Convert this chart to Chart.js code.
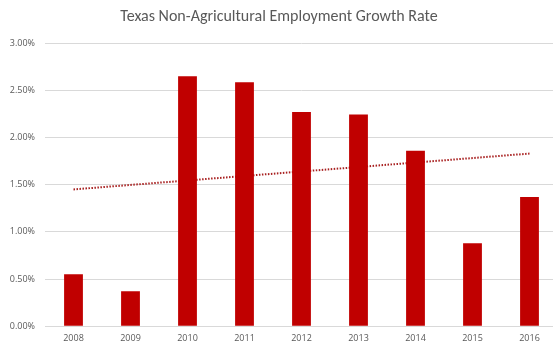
<!DOCTYPE html>
<html>
<head>
<meta charset="utf-8">
<script src="https://cdn.jsdelivr.net/npm/chart.js@4.4.1/dist/chart.umd.min.js"></script>
<style>
  html, body { margin: 0; padding: 0; background: #fff; overflow: hidden; }
  #wrap { width: 558px; height: 346px; }
</style>
</head>
<body>
<div id="wrap"><canvas id="growth-chart"></canvas></div>
<script>
// Data
const years = ["2008", "2009", "2010", "2011", "2012", "2013", "2014", "2015", "2016"];
const growthRate = [0.55, 0.37, 2.65, 2.585, 2.27, 2.245, 1.86, 0.88, 1.37];
// dotted linear trend: value at first and last year
const trendEnds = [1.45, 1.83];
const yTicks = [0, 0.5, 1, 1.5, 2, 2.5, 3];

const trendData = years.map((y, i) => i === 0 ? trendEnds[0] : (i === years.length - 1 ? trendEnds[1] : null));

new Chart(document.getElementById("growth-chart"), {
  type: 'bar',
  data: {
    labels: years,
    datasets: [
      {
        label: "Growth Rate",
        backgroundColor: "#C00000",
        data: growthRate,
        barPercentage: 0.66,
        categoryPercentage: 0.5,
        order: 1
      },
      {
        label: "Linear trend",
        type: "line",
        borderColor: "#A82020",
        borderWidth: 2,
        borderDash: [1.5, 1.5],
        pointRadius: 0,
        spanGaps: true,
        fill: false,
        data: trendData,
        order: 2
      }
    ]
  },
  options: {
    responsive: true,
    maintainAspectRatio: false,
    animation: false,
    layout: { padding: { left: 0, right: 0, top: 1, bottom: 3 } },
    plugins: {
      legend: { display: false },
      tooltip: { enabled: false },
      title: {
        display: true,
        text: 'Texas Non-Agricultural Employment Growth Rate',
        color: '#595959',
        font: { family: 'Carlito, Calibri, "Open Sans", sans-serif', size: 16, weight: 'normal' },
        padding: { top: 6, bottom: 17 }
      }
    },
    scales: {
      x: {
        grid: { display: false },
        border: { color: '#d9d9d9' },
        ticks: { color: '#595959', font: { family: '"Open Sans", sans-serif', size: 9 }, padding: -1 }
      },
      y: {
        min: 0,
        max: 3,
        afterBuildTicks: s => { s.ticks = yTicks.map(v => ({ value: v })); },
        afterFit: s => { s.width = 45; },
        grid: { color: '#d9d9d9', drawTicks: false },
        border: { display: false },
        ticks: {
          color: '#595959',
          padding: 10,
          font: { family: '"Open Sans", sans-serif', size: 9 },
          callback: v => v.toFixed(2) + '%'
        }
      }
    }
  }
});
</script>
</body>
</html>
